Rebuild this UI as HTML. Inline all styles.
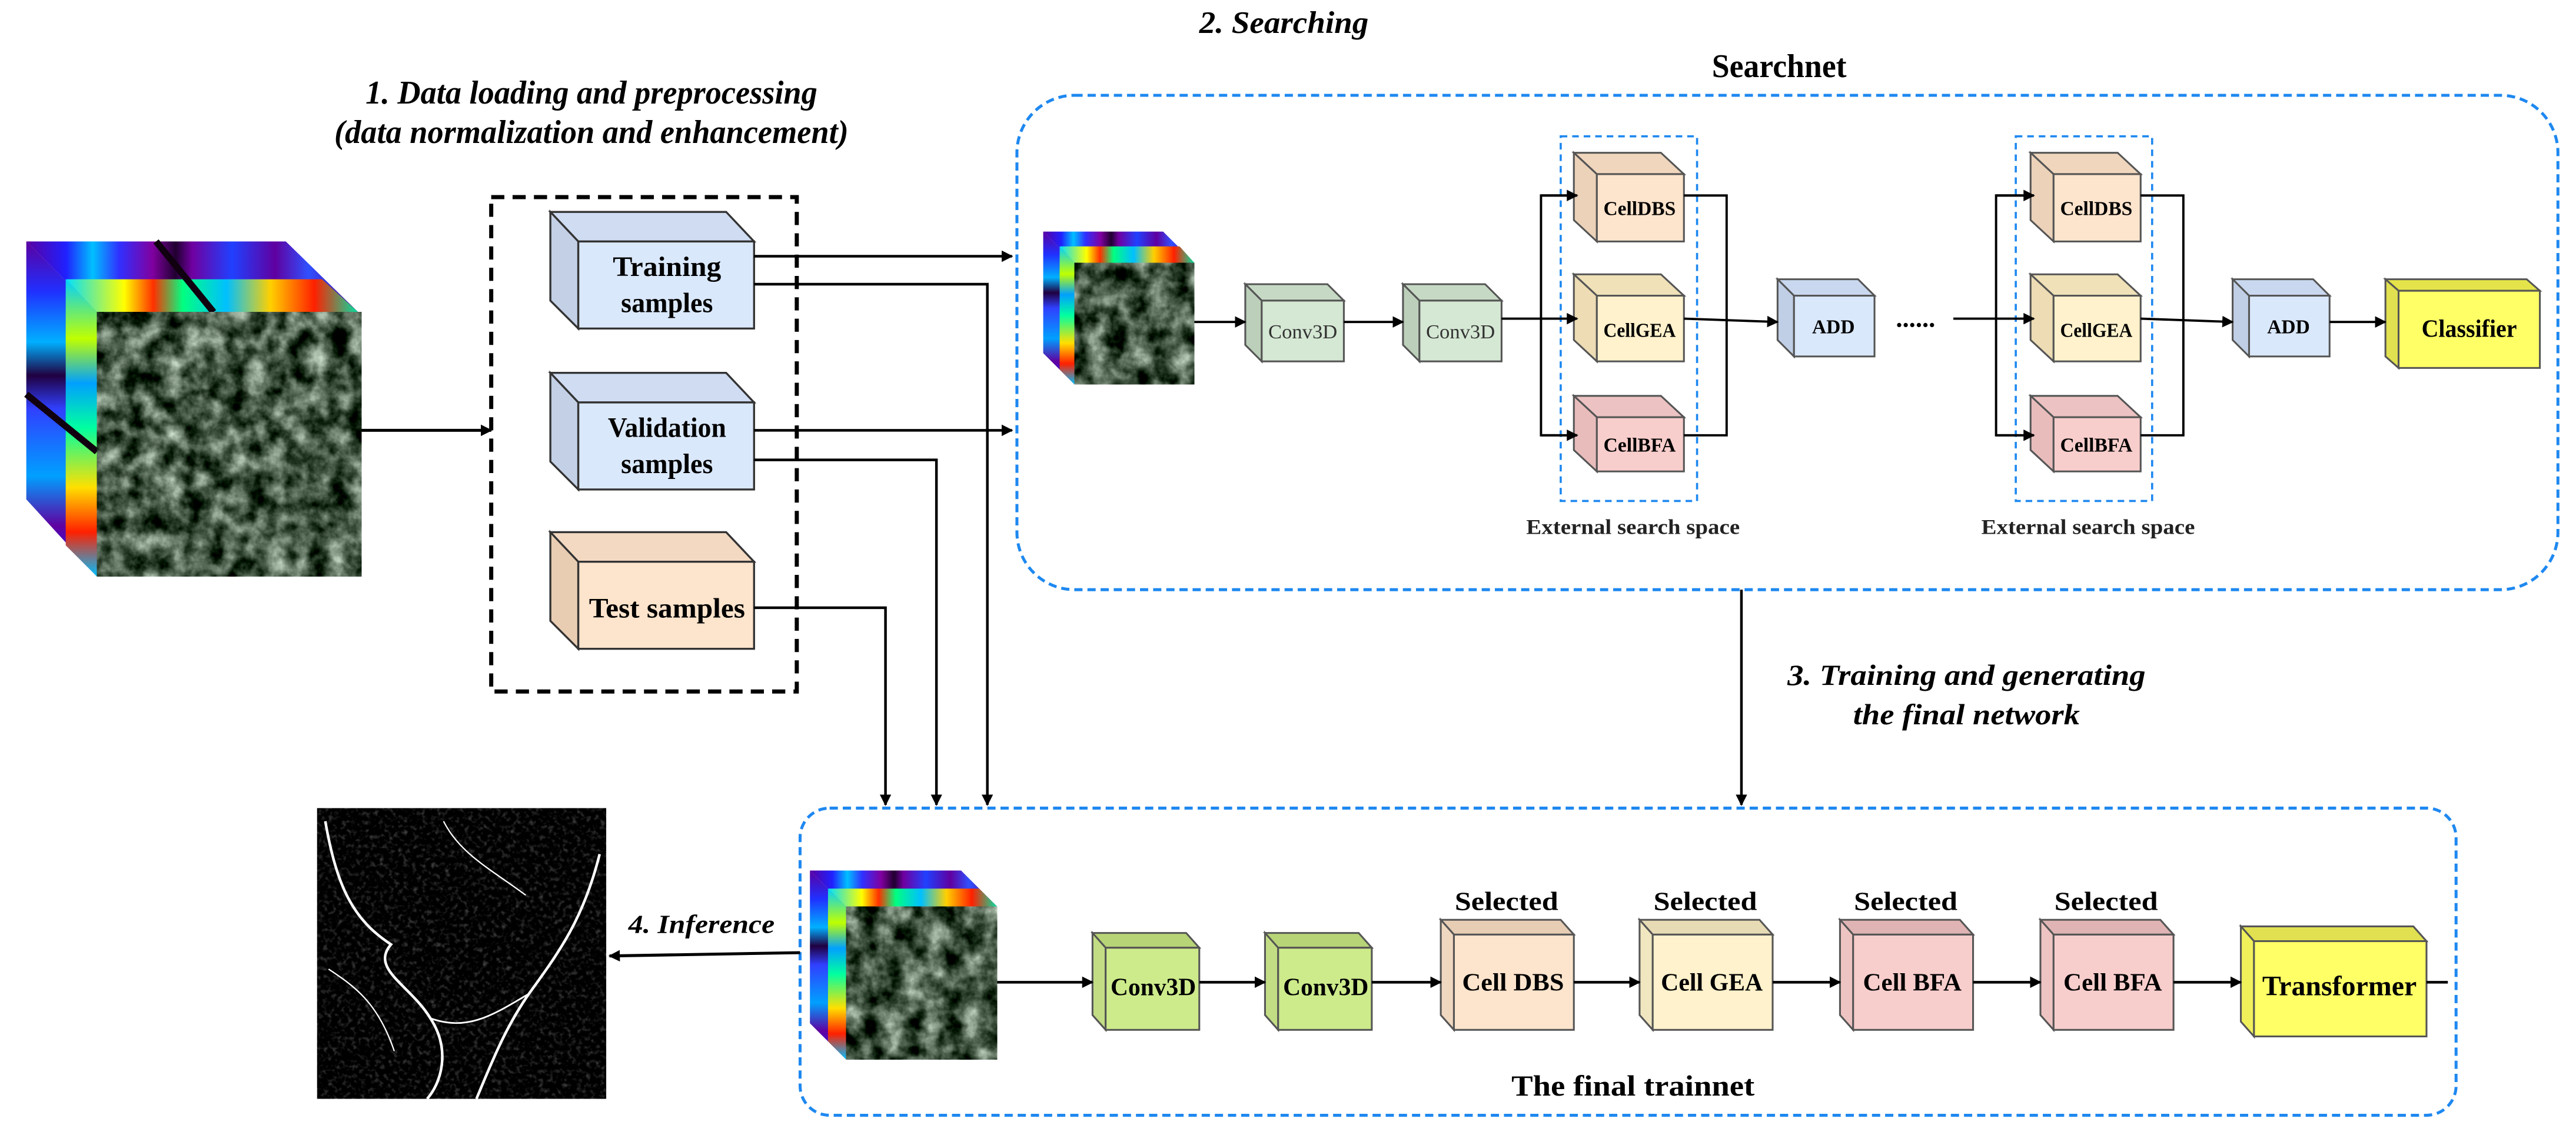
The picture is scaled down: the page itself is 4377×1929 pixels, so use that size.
<!DOCTYPE html>
<html><head><meta charset="utf-8"><style>html,body{margin:0;padding:0;background:#fff}svg{display:block}</style></head>
<body>
<svg width="4377" height="1929" viewBox="0 0 1568 691" xmlns="http://www.w3.org/2000/svg" font-family="'Liberation Serif', serif">
<defs>
<marker id="ah" viewBox="0 0 10 10" refX="9" refY="5" markerWidth="7" markerHeight="7" orient="auto" markerUnits="userSpaceOnUse"><path d="M0,0 L10,5 L0,10 z" fill="#000"/></marker>
<filter id="sat" x="0" y="0" width="1" height="1" color-interpolation-filters="sRGB"><feTurbulence type="fractalNoise" baseFrequency="0.08" numOctaves="4" seed="3"/><feColorMatrix values="1.3 0 0 0 -0.38  1.3 0 0 0 -0.31  1.3 0 0 0 -0.38  0 0 0 0 1"/></filter>
<filter id="inf" x="0" y="0" width="1" height="1" color-interpolation-filters="sRGB"><feTurbulence type="fractalNoise" baseFrequency="0.35" numOctaves="2" seed="7"/><feColorMatrix values="0 0 0 0 1  0 0 0 0 1  0 0 0 0 1  1.6 0 0 0 -0.8"/></filter>
<linearGradient id="hsx" x1="0" y1="0" x2="1" y2="0">
<stop offset="0" stop-color="#5a00a0"/><stop offset="0.12" stop-color="#2020ff"/><stop offset="0.2" stop-color="#00c0ff"/><stop offset="0.28" stop-color="#3030ff"/><stop offset="0.38" stop-color="#8000a0"/><stop offset="0.45" stop-color="#200030"/><stop offset="0.5" stop-color="#7000a0"/><stop offset="0.62" stop-color="#2040ff"/><stop offset="0.75" stop-color="#6000a0"/><stop offset="0.85" stop-color="#3050ff"/><stop offset="1" stop-color="#500090"/></linearGradient>
<linearGradient id="hsy" x1="0" y1="0" x2="0" y2="1">
<stop offset="0" stop-color="#5a00a0"/><stop offset="0.15" stop-color="#2030ff"/><stop offset="0.3" stop-color="#00b0ff"/><stop offset="0.4" stop-color="#200040"/><stop offset="0.5" stop-color="#3040ff"/><stop offset="0.7" stop-color="#00a0ff"/><stop offset="0.85" stop-color="#6000a0"/><stop offset="1" stop-color="#2020ff"/></linearGradient>
<linearGradient id="rbx" x1="0" y1="0" x2="1" y2="0">
<stop offset="0" stop-color="#00e0ff"/><stop offset="0.2" stop-color="#ffff00"/><stop offset="0.3" stop-color="#ff3000"/><stop offset="0.4" stop-color="#00ff80"/><stop offset="0.55" stop-color="#00c0ff"/><stop offset="0.7" stop-color="#ffd000"/><stop offset="0.85" stop-color="#ff2000"/><stop offset="1" stop-color="#00e0a0"/></linearGradient>
<linearGradient id="rby" x1="0" y1="0" x2="0" y2="1">
<stop offset="0" stop-color="#00d0ff"/><stop offset="0.2" stop-color="#c0ff00"/><stop offset="0.35" stop-color="#00a0ff"/><stop offset="0.5" stop-color="#00ffa0"/><stop offset="0.7" stop-color="#ffe000"/><stop offset="0.85" stop-color="#ff2000"/><stop offset="1" stop-color="#00c0ff"/></linearGradient>
</defs>

<text x="360" y="63" font-size="20" font-weight="bold" font-style="italic" text-anchor="middle" textLength="275" lengthAdjust="spacingAndGlyphs">1. Data loading and preprocessing</text>
<text x="360" y="87" font-size="20" font-weight="bold" font-style="italic" text-anchor="middle" textLength="313" lengthAdjust="spacingAndGlyphs">(data normalization and enhancement)</text>
<text x="730" y="20" font-size="19" font-weight="bold" font-style="italic" textLength="103" lengthAdjust="spacingAndGlyphs">2. Searching</text>
<text x="1042" y="47" font-size="20" font-weight="bold" textLength="82" lengthAdjust="spacingAndGlyphs">Searchnet</text>

<polygon points="16,147 174,147 218,190 59,190" fill="url(#hsx)"/>
<polygon points="16,147 59,190 59,351 16,304" fill="url(#hsy)"/>
<polygon points="40,170 196,170 218,190 59,190" fill="url(#rbx)"/>
<polygon points="40,170 59,190 59,351 40,332" fill="url(#rby)"/>
<line x1="95" y1="147" x2="130" y2="190" stroke="#100010" stroke-width="4"/>
<line x1="16" y1="240" x2="59" y2="275" stroke="#100010" stroke-width="4"/>
<rect x="59" y="190" width="161" height="161" filter="url(#sat)"/>

<rect x="299" y="120" width="186" height="301" fill="none" stroke="#000" stroke-width="2.5" stroke-dasharray="8,5"/>
<line x1="220" y1="262" x2="299" y2="262" stroke="#000" stroke-width="1.8" marker-end="url(#ah)"/>

<g stroke="#333" stroke-width="1.2">
<polygon points="335,129 442,129 459,147 352,147" fill="#cfdcf2"/><polygon points="335,129 352,147 352,200 335,183" fill="#c3d0e6"/><rect x="352" y="147" width="107" height="53" fill="#dae8fc"/>
<polygon points="335,227 442,227 459,245 352,245" fill="#cfdcf2"/><polygon points="335,227 352,245 352,298 335,281" fill="#c3d0e6"/><rect x="352" y="245" width="107" height="53" fill="#dae8fc"/>
<polygon points="335,324 442,324 459,342 352,342" fill="#f3d9c2"/><polygon points="335,324 352,342 352,395 335,378" fill="#e9cdb2"/><rect x="352" y="342" width="107" height="53" fill="#fde4cc"/>
</g>
<g font-size="17" font-weight="bold" text-anchor="middle">
<text x="406" y="168" textLength="66" lengthAdjust="spacingAndGlyphs">Training</text>
<text x="406" y="190" textLength="56" lengthAdjust="spacingAndGlyphs">samples</text>
<text x="406" y="266" textLength="72" lengthAdjust="spacingAndGlyphs">Validation</text>
<text x="406" y="288" textLength="56" lengthAdjust="spacingAndGlyphs">samples</text>
<text x="406" y="376" textLength="95" lengthAdjust="spacingAndGlyphs">Test samples</text>
</g>

<g stroke="#000" stroke-width="1.6" fill="none">
<line x1="459" y1="156" x2="616" y2="156" marker-end="url(#ah)"/>
<polyline points="459,173 601,173 601,490" marker-end="url(#ah)"/>
<line x1="459" y1="262" x2="616" y2="262" marker-end="url(#ah)"/>
<polyline points="459,280 570,280 570,490" marker-end="url(#ah)"/>
<polyline points="459,370 539,370 539,490" marker-end="url(#ah)"/>
<line x1="1060" y1="359" x2="1060" y2="490" marker-end="url(#ah)"/>
</g>

<rect x="619" y="58" width="938" height="301" rx="35" ry="35" fill="none" stroke="#1e88f0" stroke-width="1.8" stroke-dasharray="5,3"/>
<rect x="950" y="83" width="83" height="222" fill="none" stroke="#1e88f0" stroke-width="1.3" stroke-dasharray="4,3"/>
<rect x="1227" y="83" width="83" height="222" fill="none" stroke="#1e88f0" stroke-width="1.3" stroke-dasharray="4,3"/>

<polygon points="635,141 708,141 727,160 654,160" fill="url(#hsx)"/>
<polygon points="635,141 654,160 654,234 635,215" fill="url(#hsy)"/>
<polygon points="645,150 718,150 727,160 654,160" fill="url(#rbx)"/>
<polygon points="645,150 654,160 654,234 645,225" fill="url(#rby)"/>
<rect x="654" y="160" width="73" height="74" filter="url(#sat)"/>

<g stroke="#555" stroke-width="1.1">
<polygon points="758,173 808,173 818,183 768,183" fill="#c6d9c4"/><polygon points="758,173 768,183 768,220 758,210" fill="#bccfba"/><rect x="768" y="183" width="50" height="37" fill="#d5e8d4"/>
<polygon points="854,173 904,173 914,183 864,183" fill="#c6d9c4"/><polygon points="854,173 864,183 864,220 854,210" fill="#bccfba"/><rect x="864" y="183" width="50" height="37" fill="#d5e8d4"/>
<polygon points="958,93 1011,93 1025,106 972,106" fill="#f0d6bd"/><polygon points="958,93 972,106 972,147 958,134" fill="#ecd2b8"/><rect x="972" y="106" width="53" height="41" fill="#fde4cc"/>
<polygon points="958,167 1011,167 1025,180 972,180" fill="#f0e1b8"/><polygon points="958,167 972,180 972,220 958,207" fill="#eddcb4"/><rect x="972" y="180" width="53" height="40" fill="#fff2cc"/>
<polygon points="958,241 1011,241 1025,254 972,254" fill="#ecc2c2"/><polygon points="958,241 972,254 972,287 958,274" fill="#e9bcbc"/><rect x="972" y="254" width="53" height="33" fill="#f8cecc"/>
<polygon points="1236,93 1289,93 1303,106 1250,106" fill="#f0d6bd"/><polygon points="1236,93 1250,106 1250,147 1236,134" fill="#ecd2b8"/><rect x="1250" y="106" width="53" height="41" fill="#fde4cc"/>
<polygon points="1236,167 1289,167 1303,180 1250,180" fill="#f0e1b8"/><polygon points="1236,167 1250,180 1250,220 1236,207" fill="#eddcb4"/><rect x="1250" y="180" width="53" height="40" fill="#fff2cc"/>
<polygon points="1236,241 1289,241 1303,254 1250,254" fill="#ecc2c2"/><polygon points="1236,241 1250,254 1250,287 1236,274" fill="#e9bcbc"/><rect x="1250" y="254" width="53" height="33" fill="#f8cecc"/>
<polygon points="1082,170 1131,170 1141,180 1092,180" fill="#c9d8ef"/><polygon points="1082,170 1092,180 1092,217 1082,207" fill="#c0cfe6"/><rect x="1092" y="180" width="49" height="37" fill="#dae8fc"/>
<polygon points="1359,170 1408,170 1418,180 1369,180" fill="#c9d8ef"/><polygon points="1359,170 1369,180 1369,217 1359,207" fill="#c0cfe6"/><rect x="1369" y="180" width="49" height="37" fill="#dae8fc"/>
<polygon points="1452,170 1538,170 1546,177 1460,177" fill="#e4e44a"/><polygon points="1452,170 1460,177 1460,224 1452,217" fill="#e0e050"/><rect x="1460" y="177" width="86" height="47" fill="#ffff66"/>
</g>
<g font-size="12" text-anchor="middle">
<text x="793" y="206" textLength="42" lengthAdjust="spacingAndGlyphs" fill="#333">Conv3D</text>
<text x="889" y="206" textLength="42" lengthAdjust="spacingAndGlyphs" fill="#333">Conv3D</text>
</g>
<g font-size="12" font-weight="bold" text-anchor="middle">
<text x="998" y="131" textLength="44" lengthAdjust="spacingAndGlyphs">CellDBS</text>
<text x="998" y="205" textLength="44" lengthAdjust="spacingAndGlyphs">CellGEA</text>
<text x="998" y="275" textLength="44" lengthAdjust="spacingAndGlyphs">CellBFA</text>
<text x="1276" y="131" textLength="44" lengthAdjust="spacingAndGlyphs">CellDBS</text>
<text x="1276" y="205" textLength="44" lengthAdjust="spacingAndGlyphs">CellGEA</text>
<text x="1276" y="275" textLength="44" lengthAdjust="spacingAndGlyphs">CellBFA</text>
<text x="1116" y="203" textLength="26" lengthAdjust="spacingAndGlyphs">ADD</text>
<text x="1393" y="203" textLength="26" lengthAdjust="spacingAndGlyphs">ADD</text>
<text x="1503" y="205" font-size="15" textLength="58" lengthAdjust="spacingAndGlyphs">Classifier</text>
</g>
<text x="994" y="325" font-size="13" font-weight="bold" text-anchor="middle" fill="#222" textLength="130" lengthAdjust="spacingAndGlyphs">External search space</text>
<text x="1271" y="325" font-size="13" font-weight="bold" text-anchor="middle" fill="#222" textLength="130" lengthAdjust="spacingAndGlyphs">External search space</text>
<text x="1166" y="199" font-size="16" font-weight="bold" text-anchor="middle">......</text>

<g stroke="#000" stroke-width="1.4" fill="none">
<line x1="727" y1="196" x2="758" y2="196" marker-end="url(#ah)"/>
<line x1="818" y1="196" x2="854" y2="196" marker-end="url(#ah)"/>
<line x1="914" y1="194" x2="938" y2="194"/>
<line x1="938" y1="194" x2="960" y2="194" marker-end="url(#ah)"/>
<polyline points="960,119 938,119 938,265 960,265"/>
<line x1="938" y1="119" x2="960" y2="119" marker-end="url(#ah)"/>
<line x1="938" y1="265" x2="960" y2="265" marker-end="url(#ah)"/>
<polyline points="1025,119 1051,119 1051,265 1025,265"/>
<line x1="1025" y1="194" x2="1082" y2="196" marker-end="url(#ah)"/>
<line x1="1189" y1="194" x2="1215" y2="194"/>
<line x1="1215" y1="194" x2="1238" y2="194" marker-end="url(#ah)"/>
<polyline points="1238,119 1215,119 1215,265 1238,265"/>
<line x1="1215" y1="119" x2="1238" y2="119" marker-end="url(#ah)"/>
<line x1="1215" y1="265" x2="1238" y2="265" marker-end="url(#ah)"/>
<polyline points="1303,119 1329,119 1329,265 1303,265"/>
<line x1="1303" y1="194" x2="1359" y2="196" marker-end="url(#ah)"/>
<line x1="1418" y1="196" x2="1452" y2="196" marker-end="url(#ah)"/>
</g>

<text x="1197" y="417" font-size="18" font-weight="bold" font-style="italic" text-anchor="middle" textLength="218" lengthAdjust="spacingAndGlyphs">3. Training and generating</text>
<text x="1197" y="441" font-size="18" font-weight="bold" font-style="italic" text-anchor="middle" textLength="138" lengthAdjust="spacingAndGlyphs">the final network</text>

<rect x="487" y="492" width="1008" height="187" rx="18" ry="18" fill="none" stroke="#1e88f0" stroke-width="1.8" stroke-dasharray="5,3"/>

<rect x="193" y="492" width="176" height="177" fill="#000"/>
<rect x="193" y="492" width="176" height="177" filter="url(#inf)" opacity="0.4"/>
<g stroke="#fff" fill="none" stroke-width="1.6">
<path d="M198,500 C205,540 215,560 238,575 C225,590 250,600 262,620 C275,640 268,660 260,669"/>
<path d="M365,520 C355,560 340,580 322,605 C308,625 300,645 290,669"/>
<path d="M262,620 C285,628 300,618 322,605" stroke-width="1"/>
<path d="M270,500 C280,520 300,530 320,545" stroke-width="0.8"/>
<path d="M200,590 C215,600 230,610 240,640" stroke-width="0.8"/>
</g>
<line x1="487" y1="580" x2="371" y2="582" stroke="#000" stroke-width="1.8" marker-end="url(#ah)"/>
<text x="427" y="568" font-size="16" font-weight="bold" font-style="italic" text-anchor="middle" textLength="89" lengthAdjust="spacingAndGlyphs">4. Inference</text>

<polygon points="493,530 585,530 607,552 515,552" fill="url(#hsx)"/>
<polygon points="493,530 515,552 515,645 493,623" fill="url(#hsy)"/>
<polygon points="504,541 596,541 607,552 515,552" fill="url(#rbx)"/>
<polygon points="504,541 515,552 515,645 504,634" fill="url(#rby)"/>
<rect x="515" y="552" width="92" height="93" filter="url(#sat)"/>

<g stroke="#555" stroke-width="1.1">
<polygon points="665,568 722,568 730,577 673,577" fill="#b7d477"/><polygon points="665,568 673,577 673,627 665,618" fill="#c2dd84"/><rect x="673" y="577" width="57" height="50" fill="#cdeb8b"/>
<polygon points="770,568 827,568 835,577 778,577" fill="#b7d477"/><polygon points="770,568 778,577 778,627 770,618" fill="#c2dd84"/><rect x="778" y="577" width="57" height="50" fill="#cdeb8b"/>
<polygon points="877,560 950,560 958,569 885,569" fill="#e6cdb4"/><polygon points="877,560 885,569 885,627 877,618" fill="#f0d8c0"/><rect x="885" y="569" width="73" height="58" fill="#fde4cc"/>
<polygon points="998,560 1071,560 1079,569 1006,569" fill="#e6dbb4"/><polygon points="998,560 1006,569 1006,627 998,618" fill="#f0e6c0"/><rect x="1006" y="569" width="73" height="58" fill="#fff2cc"/>
<polygon points="1120,560 1193,560 1201,569 1128,569" fill="#e0b4b4"/><polygon points="1120,560 1128,569 1128,627 1120,618" fill="#eec4c2"/><rect x="1128" y="569" width="73" height="58" fill="#f8cecc"/>
<polygon points="1242,560 1315,560 1323,569 1250,569" fill="#e0b4b4"/><polygon points="1242,560 1250,569 1250,627 1242,618" fill="#eec4c2"/><rect x="1250" y="569" width="73" height="58" fill="#f8cecc"/>
<polygon points="1364,564 1469,564 1477,573 1372,573" fill="#e0e050"/><polygon points="1364,564 1372,573 1372,631 1364,622" fill="#f0f05a"/><rect x="1372" y="573" width="105" height="58" fill="#ffff66"/>
</g>
<g font-size="15" font-weight="bold" text-anchor="middle">
<text x="702" y="606" textLength="52" lengthAdjust="spacingAndGlyphs">Conv3D</text>
<text x="807" y="606" textLength="52" lengthAdjust="spacingAndGlyphs">Conv3D</text>
<text x="921" y="603" textLength="62" lengthAdjust="spacingAndGlyphs">Cell DBS</text>
<text x="1042" y="603" textLength="62" lengthAdjust="spacingAndGlyphs">Cell GEA</text>
<text x="1164" y="603" textLength="60" lengthAdjust="spacingAndGlyphs">Cell BFA</text>
<text x="1286" y="603" textLength="60" lengthAdjust="spacingAndGlyphs">Cell BFA</text>
<text x="1424" y="606" font-size="17" textLength="94" lengthAdjust="spacingAndGlyphs">Transformer</text>
</g>
<g font-size="16" font-weight="bold" text-anchor="middle">
<text x="917" y="554" textLength="63" lengthAdjust="spacingAndGlyphs">Selected</text>
<text x="1038" y="554" textLength="63" lengthAdjust="spacingAndGlyphs">Selected</text>
<text x="1160" y="554" textLength="63" lengthAdjust="spacingAndGlyphs">Selected</text>
<text x="1282" y="554" textLength="63" lengthAdjust="spacingAndGlyphs">Selected</text>
</g>
<text x="994" y="667" font-size="18" font-weight="bold" text-anchor="middle" textLength="148" lengthAdjust="spacingAndGlyphs">The final trainnet</text>

<g stroke="#000" stroke-width="1.6" fill="none">
<line x1="607" y1="598" x2="665" y2="598" marker-end="url(#ah)"/>
<line x1="730" y1="598" x2="770" y2="598" marker-end="url(#ah)"/>
<line x1="835" y1="598" x2="877" y2="598" marker-end="url(#ah)"/>
<line x1="958" y1="598" x2="998" y2="598" marker-end="url(#ah)"/>
<line x1="1079" y1="598" x2="1120" y2="598" marker-end="url(#ah)"/>
<line x1="1201" y1="598" x2="1242" y2="598" marker-end="url(#ah)"/>
<line x1="1323" y1="598" x2="1364" y2="598" marker-end="url(#ah)"/>
<line x1="1477" y1="598" x2="1490" y2="598"/>
</g>
</svg>
</body></html>
